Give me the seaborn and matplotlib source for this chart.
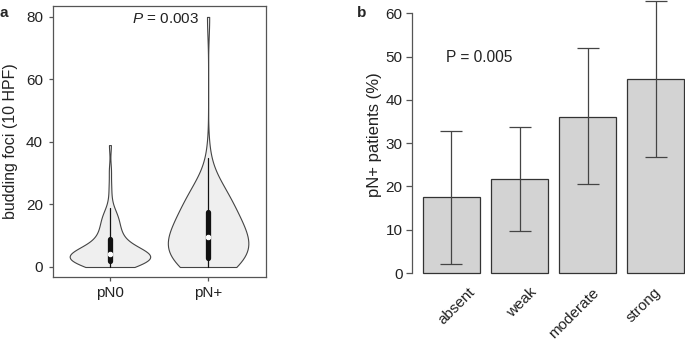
import matplotlib
matplotlib.use('Agg')
import matplotlib.pyplot as plt
import numpy as np
import pandas as pd
import seaborn as sns

# panel a: budding foci counts per patient (value, number of patients)
pn0_values = [0, 1, 2, 3, 4, 5, 6, 7, 8, 9, 10, 11, 12, 13, 14, 15, 16, 17, 18, 19, 22, 26, 31, 39]
pn0_counts = [6, 7, 8, 9, 11, 6, 5, 4, 2, 3, 2, 2, 2, 2, 1, 2, 2, 1, 1, 1, 1, 1, 1, 1]
pnp_values = [0, 1, 2, 3, 5, 6, 7, 8, 9, 10, 11, 12, 13, 14, 15, 16,
              17, 18, 19, 20, 21, 22, 23, 24, 25, 26, 28, 35, 80]
pnp_counts = [4, 4, 4, 6, 2, 2, 3, 3, 5, 2, 2, 2, 2, 2, 2, 3,
              1, 2, 1, 2, 1, 2, 1, 2, 1, 2, 1, 1, 1]
groups = ['pN0', 'pN+']
bandwidth = [0.33, 0.5]
p_text_a = '$P$ = 0.003'

# panel b: pN+ rate by staining level, with 95% CI
levels = ['absent', 'weak', 'moderate', 'strong']
pct = [17.5, 21.8, 36.1, 44.8]
ci_low = [2.0, 9.8, 20.5, 26.8]
ci_high = [32.9, 33.7, 51.9, 62.9]
p_text_b = 'P = 0.005'

sns.set_style('ticks')
plt.rcParams['font.family'] = ['Liberation Sans', 'DejaVu Sans']
plt.rcParams['mathtext.fontset'] = 'custom'
plt.rcParams['mathtext.it'] = 'Liberation Sans:italic'
plt.rcParams['mathtext.rm'] = 'Liberation Sans'
plt.rcParams['axes.edgecolor'] = '#555555'
plt.rcParams['xtick.color'] = '#555555'
plt.rcParams['ytick.color'] = '#555555'
plt.rcParams['xtick.labelcolor'] = '#222222'
plt.rcParams['ytick.labelcolor'] = '#222222'
TXT = '#222222'

W, H = 685., 340.
fig = plt.figure(figsize=(6.85, 3.4), dpi=100)

# ---- panel a
ax1 = fig.add_axes([53 / W, 1 - 277 / H, 213 / W, 271 / H])
frames = []
for g, vals, cnts in zip(groups, [pn0_values, pnp_values], [pn0_counts, pnp_counts]):
    frames.append(pd.DataFrame({'group': g, 'foci': np.repeat(vals, cnts)}))
df = pd.concat(frames, ignore_index=True)

for g, bw in zip(groups, bandwidth):
    sns.violinplot(data=df[df['group'] == g], x='group', y='foci', order=groups, cut=0,
                   density_norm='width', bw_method=bw, width=0.82, inner='box',
                   color='#efefef', saturation=1, linecolor='#444444', linewidth=0.8,
                   inner_kws=dict(box_width=3.8, whis_width=0.9, marker='o', color='#111111'),
                   ax=ax1)
ax1.set_xlim(-0.58, 1.59)
ax1.set_ylim(-3.2, 83.5)
ax1.set_yticks([0, 20, 40, 60, 80])
ax1.set_xlabel('')
ax1.set_ylabel('budding foci (10 HPF)', fontsize=11.5, color=TXT)
ax1.yaxis.set_label_coords(-0.165, 0.5)
ax1.tick_params(axis='y', length=3.2, width=0.9, labelsize=11, pad=4)
ax1.tick_params(axis='x', length=3.2, width=0.9, labelsize=11, pad=3)
for s in ax1.spines.values():
    s.set_visible(True)
    s.set_linewidth(0.9)
ax1.text(0.571, 78.1, p_text_a, ha='center', va='baseline', fontsize=11, color=TXT)

# ---- panel b
ax2 = fig.add_axes([412 / W, 1 - 277 / H, 273 / W, 277 / H])
sns.barplot(x=levels, y=pct, order=levels, color='#d3d3d3', saturation=1, width=0.84,
            edgecolor='#333333', linewidth=0.9, errorbar=None, ax=ax2)
pos = np.arange(len(levels))
err = [np.array(pct) - np.array(ci_low), np.array(ci_high) - np.array(pct)]
ax2.errorbar(pos, pct, yerr=err, fmt='none', ecolor='#444444', elinewidth=0.9,
             capsize=8.2, capthick=0.9)
ax2.set_xlim(-0.58, 3.43)
ax2.set_ylim(-0.92, 63.05)
ax2.set_yticks([0, 10, 20, 30, 40, 50, 60])
ax2.spines['left'].set_bounds(0, 60)
ax2.spines['left'].set_linewidth(0.9)
for side in ['top', 'right', 'bottom']:
    ax2.spines[side].set_visible(False)
ax2.set_xticks(pos * 0.91 + 0.24)
ax2.set_xticklabels(levels, rotation=45, ha='right', va='top', rotation_mode='anchor')
ax2.tick_params(axis='x', length=0, pad=6, labelsize=11)
ax2.tick_params(axis='y', length=4.3, width=0.9, labelsize=11, pad=2.4)
ax2.set_ylabel('pN+ patients (%)', fontsize=12, color=TXT)
ax2.yaxis.set_label_coords(-0.11, 0.514)
ax2.text(0.41, 48.7, p_text_b, ha='center', va='baseline', fontsize=11.2, color=TXT)

fig.text(0.0, 1 - 17 / H, 'a', weight='bold', fontsize=11, va='baseline')
fig.text(357 / W, 1 - 17 / H, 'b', weight='bold', fontsize=11, va='baseline')

fig.savefig('out.png', dpi=100)
